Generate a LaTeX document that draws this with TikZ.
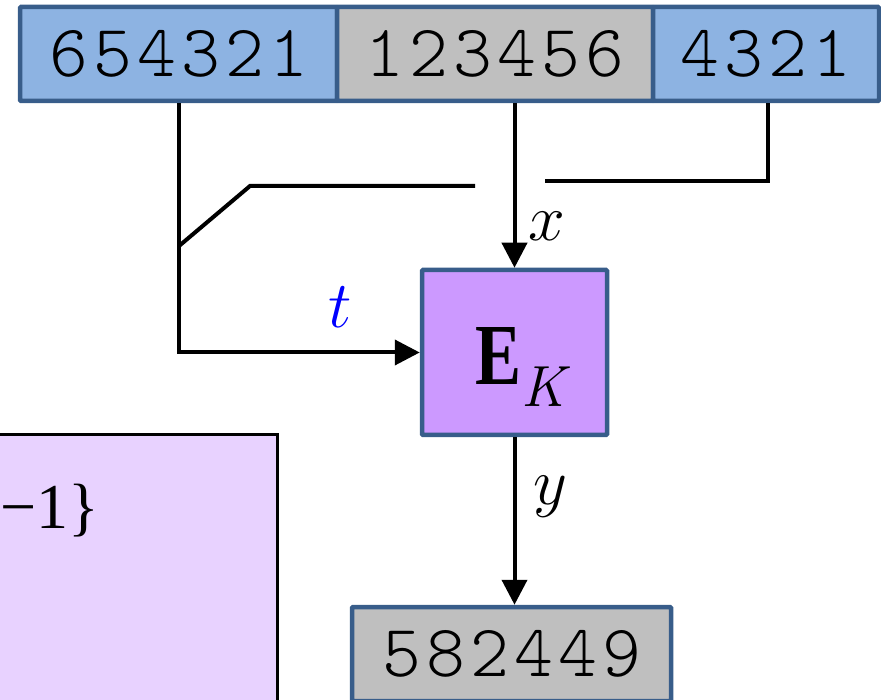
\RequirePackage{fix-cm}
\documentclass[tikz,border=0pt]{standalone}
\usepackage{fontspec}
\setmonofont[LetterSpace=7]{Latin Modern Mono Light}
\newfontfamily\timesfont{Liberation Serif}
\usetikzlibrary{arrows.meta}
\definecolor{boxblue}{RGB}{141,179,226}
\definecolor{boxgray}{RGB}{191,191,191}
\definecolor{boxedge}{RGB}{56,93,138}
\definecolor{ekfill}{RGB}{204,153,255}
\definecolor{lavender}{RGB}{232,210,255}
\tikzset{
  numbox/.style={draw=boxedge, line width=4.5pt, rounded corners=1pt, inner sep=0pt,
    minimum height=94pt, font=\fontsize{74}{74}\selectfont\ttfamily},
  wire/.style={line width=4pt, line join=miter},
  arr/.style={wire, -{Triangle[length=25pt,width=25pt]}},
  lbl/.style={inner sep=0pt, font=\fontsize{66}{66}\selectfont},
}
\begin{document}
\begin{tikzpicture}[x=1pt,y=-1pt]
\useasboundingbox (0,0) rectangle (881,700);
\clip (0,0) rectangle (881,700);
% left lavender box (partly outside)
\node[draw=black, line width=3.5pt, fill=lavender, inner sep=0pt, minimum width=320pt, minimum height=320pt, anchor=north east] (lb) at (279,433) {};
\node[anchor=base west, inner sep=0pt, font=\fontsize{64}{64}\selectfont\timesfont] (lbt) at (0,528) {−1\}};
% top boxes
\node[numbox, fill=boxblue, minimum width=317pt] (a) at (178.5,54) {654321};
\node[numbox, fill=boxgray, minimum width=316pt] (b) at (495,54) {123456};
\node[numbox, fill=boxblue, minimum width=226pt] (c) at (766,54) {4321};
% encryption box
\node[draw=boxedge, fill=ekfill, line width=4.5pt, rounded corners=1pt, inner sep=0pt,
  minimum width=185pt, minimum height=165pt] (ek) at (514.5,352.5) {};
\node[anchor=base west, inner sep=0pt] (ekt) at (475,385)
  {\resizebox{46pt}{57pt}{\fontsize{86}{86}\selectfont\timesfont\bfseries E}\raisebox{-22pt}{\fontsize{58}{58}\selectfont\itshape K}};
% output box
\node[numbox, fill=boxgray, minimum width=319pt] (d) at (511.5,654) {582449};
% coordinates
\coordinate (xl) at (179,0);
\coordinate (sw) at (179,246);
\coordinate (sw2) at (250,186);
\coordinate (sw3) at (475,186);
\coordinate (xr) at (768,0);
\coordinate (rr) at (768,181);
\coordinate (rl) at (545,181);
% connectors
\draw[arr] (a.south -| xl) |- (ek.west);
\draw[wire] (sw) -- (sw2) -- (sw3);
\draw[arr] (ek.north |- b.south) -- (ek.north);
\draw[wire] (c.south -| xr) -- (rr) -- (rl);
\draw[arr] (ek.south) -- (ek.south |- d.north);
% labels
\node[lbl] (lx) at (547,226) {$x$};
\node[lbl, text=blue] (lt) at (340,307) {$t$};
\node[lbl] (ly) at (550,497) {$y$};
\end{tikzpicture}
\end{document}
